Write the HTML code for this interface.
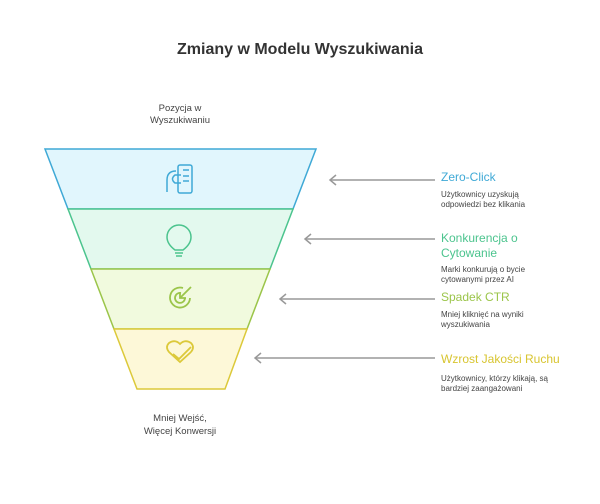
<!DOCTYPE html>
<html><head><meta charset="utf-8"><style>
body{margin:0;background:#fff;}
svg text{font-family:"Liberation Sans",sans-serif;}
</style></head><body>
<svg width="600" height="499" viewBox="0 0 600 499" xmlns="http://www.w3.org/2000/svg">
<rect width="600" height="499" fill="#fff"/>
<text x="300" y="54" text-anchor="middle" font-size="16" font-weight="bold" fill="#333">Zmiany w Modelu Wyszukiwania</text>
<text x="180" y="111" text-anchor="middle" font-size="9.5" fill="#444">Pozycja w</text>
<text x="180" y="123" text-anchor="middle" font-size="9.5" fill="#444">Wyszukiwaniu</text>
<text x="180" y="421" text-anchor="middle" font-size="9.5" fill="#444">Mniej Wejść,</text>
<text x="180" y="434" text-anchor="middle" font-size="9.5" fill="#444">Więcej Konwersji</text>

<polygon points="45,149 316,149 293,209 68,209" fill="#e1f6fd" stroke="#3fa9d6" stroke-width="1.5"/>
<polygon points="68,209 293,209 270,269 91,269" fill="#e3f9ee" stroke="#4cc48e" stroke-width="1.5"/>
<polygon points="91,269 270,269 247,329 114,329" fill="#f1fade" stroke="#9bc54a" stroke-width="1.5"/>
<polygon points="114,329 247,329 225,389 137,389" fill="#fdf8d8" stroke="#dcc93a" stroke-width="1.5"/>

<!-- icons -->
<g fill="none" stroke="#3fa9d6" stroke-width="1.5">
<rect x="178" y="165" width="14" height="28" rx="2"/>
<path d="M176 171 q-9 0 -9 9 v12 M181 175 h-6 q-5 4 0 8 h6"/>
<line x1="183" y1="170" x2="189" y2="170"/><line x1="183" y1="176" x2="189" y2="176"/><line x1="183" y1="181" x2="189" y2="181"/>
</g>
<g fill="none" stroke="#4cc48e" stroke-width="1.5">
<path d="M175 250 q-8 -6 -8 -13 a12 12 0 0 1 24 0 q0 7 -8 13 z"/>
<line x1="175" y1="253" x2="183" y2="253"/><line x1="176" y1="256" x2="182" y2="256"/>
</g>
<g fill="none" stroke="#9bc54a" stroke-width="1.8">
<path d="M190 298 a10 10 0 1 1 -7 -10"/><path d="M185 298 a5 5 0 1 1 -4 -5"/>
<line x1="180" y1="298" x2="191" y2="287"/><path d="M180 292 v6 h6"/>
</g>
<g fill="none" stroke="#dcc93a" stroke-width="1.8">
<path d="M191 352 q4 -5 0 -9 q-6 -4 -11 1 q-5 -5 -11 -1 q-4 4 0 9 l11 10 l11 -10"/>
<path d="M173 354 l6 5 l12 -12"/>
</g>

<g stroke="#999" stroke-width="1.5" fill="none">
<line x1="330" y1="180" x2="435" y2="180"/><path d="M336 175 l-6 5 l6 5"/>
<line x1="305" y1="239" x2="435" y2="239"/><path d="M311 234 l-6 5 l6 5"/>
<line x1="280" y1="299" x2="435" y2="299"/><path d="M286 294 l-6 5 l6 5"/>
<line x1="255" y1="358" x2="435" y2="358"/><path d="M261 353 l-6 5 l6 5"/>
</g>

<text x="441" y="181" font-size="12" fill="#3fa9d6">Zero-Click</text>
<text x="441" y="197" font-size="8" fill="#444">Użytkownicy uzyskują</text>
<text x="441" y="207" font-size="8" fill="#444">odpowiedzi bez klikania</text>
<text x="441" y="242" font-size="12" fill="#4cc48e">Konkurencja o</text>
<text x="441" y="257" font-size="12" fill="#4cc48e">Cytowanie</text>
<text x="441" y="272" font-size="8" fill="#444">Marki konkurują o bycie</text>
<text x="441" y="282" font-size="8" fill="#444">cytowanymi przez AI</text>
<text x="441" y="301" font-size="12" fill="#9bc54a">Spadek CTR</text>
<text x="441" y="317" font-size="8" fill="#444">Mniej kliknięć na wyniki</text>
<text x="441" y="327" font-size="8" fill="#444">wyszukiwania</text>
<text x="441" y="363" font-size="12" fill="#d8c530">Wzrost Jakości Ruchu</text>
<text x="441" y="381" font-size="8" fill="#444">Użytkownicy, którzy klikają, są</text>
<text x="441" y="391" font-size="8" fill="#444">bardziej zaangażowani</text>
</svg>
</body></html>
